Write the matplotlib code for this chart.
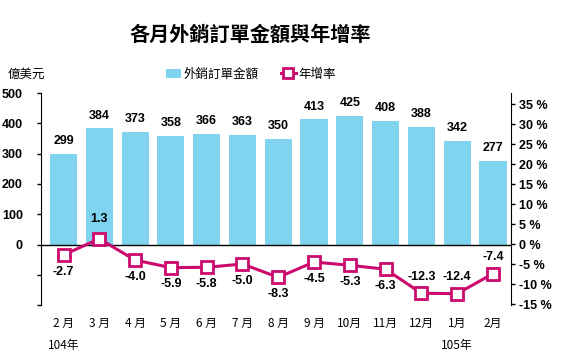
import matplotlib.pyplot as plt
import numpy as np
from matplotlib.lines import Line2D
from matplotlib.patches import Patch

months = ['2 月', '3 月', '4 月', '5 月', '6 月', '7 月', '8 月', '9 月', '10月', '11月', '12月', '1月', '2月']
orders = [299, 384, 373, 358, 366, 363, 350, 413, 425, 408, 388, 342, 277]
growth = [-2.7, 1.3, -4.0, -5.9, -5.8, -5.0, -8.3, -4.5, -5.3, -6.3, -12.3, -12.4, -7.4]
# label above (+1) or below (-1) the growth point
growth_side = [-1, 1, -1, -1, -1, -1, -1, -1, -1, -1, 1, 1, 1]
years = {0: '104年', 11: '105年'}

cjk = ['Noto Sans CJK TC', 'DejaVu Sans']
num = ['Liberation Sans Narrow', 'Liberation Sans', 'DejaVu Sans']
bar_color = '#80d4f0'
line_color = '#cc0a6e'

fig = plt.figure(figsize=(5.83, 3.61), dpi=100)
ax = fig.add_axes([0.0703, 0.155, 0.806, 0.587])
ax2 = ax.twinx()

x = np.arange(len(orders))
ax.bar(x, orders, width=0.76, color=bar_color, zorder=2)
for xi, v in zip(x, orders):
    ax.text(xi, v + 22, str(v), ha='center', va='bottom', family=num,
            fontweight='bold', fontsize=9)

ax.axhline(0, color='black', lw=1, zorder=3)
ax.set_xlim(-0.63, 12.5)
ax.set_ylim(-200, 500)
ax.set_yticks(np.arange(-200, 501, 100))
ax.set_yticklabels(['', ''] + [str(v) for v in range(0, 501, 100)])
for lab in ax.get_yticklabels():
    lab.set_family(num)
    lab.set_fontweight('bold')
    lab.set_fontsize(9)
ax.set_xticks(x)
ax.set_xticklabels([])
ax.tick_params(axis='x', length=0)
ax.tick_params(axis='y', length=3, width=1, pad=10)
for s in ['top', 'bottom', 'right']:
    ax.spines[s].set_visible(False)

for xi, m in zip(x, months):
    ax.text(xi, -262, m, ha='center', va='center', family=cjk, fontsize=8.5)
for xi, y in years.items():
    ax.text(xi, -332, y, ha='center', va='center', family=cjk, fontsize=8.5)

ax2.plot(x, growth, color=line_color, lw=2.2, marker='s', ms=8,
         mfc='white', mec=line_color, mew=2, zorder=4)
for xi, v, s in zip(x, growth, growth_side):
    off = 12 * s
    if xi == 1:
        off = 14
    ax2.annotate(f'{v:.1f}', (xi, v), xytext=(0, off), textcoords='offset points',
                 ha='center', va='center', family=num,
                 fontweight='bold', fontsize=9)
ax2.set_ylim(-15.25, 37.75)
ax2.set_yticks(np.arange(-15, 36, 5))
ax2.set_yticklabels([f'{v} %' for v in range(-15, 36, 5)])
for lab in ax2.get_yticklabels():
    lab.set_family(num)
    lab.set_fontweight('bold')
    lab.set_fontsize(9)
ax2.tick_params(axis='y', length=3, width=1, pad=3)
for s in ['top', 'bottom', 'left']:
    ax2.spines[s].set_visible(False)
ax.set_zorder(ax2.get_zorder() - 1)
ax2.patch.set_visible(False)
ax.patch.set_visible(False)

fig.text(0.43, 0.905, '各月外銷訂單金額與年增率', ha='center', va='center',
         family=cjk, fontweight='bold', fontsize=14.5)
fig.text(0.013, 0.795, '億美元', ha='left', va='center', family=cjk, fontsize=9)

handles = [Patch(facecolor=bar_color, edgecolor='none'),
           Line2D([], [], color=line_color, lw=2.2, marker='s', ms=7,
                  mfc='white', mec=line_color, mew=2)]
fig.legend(handles, ['外銷訂單金額', '年增率'], loc='center', bbox_to_anchor=(0.43, 0.795),
           ncol=2, frameon=False, prop={'family': cjk, 'size': 9},
           handlelength=1.2, handletextpad=0.2, columnspacing=1.8)

fig.savefig('out.png', dpi=100)
